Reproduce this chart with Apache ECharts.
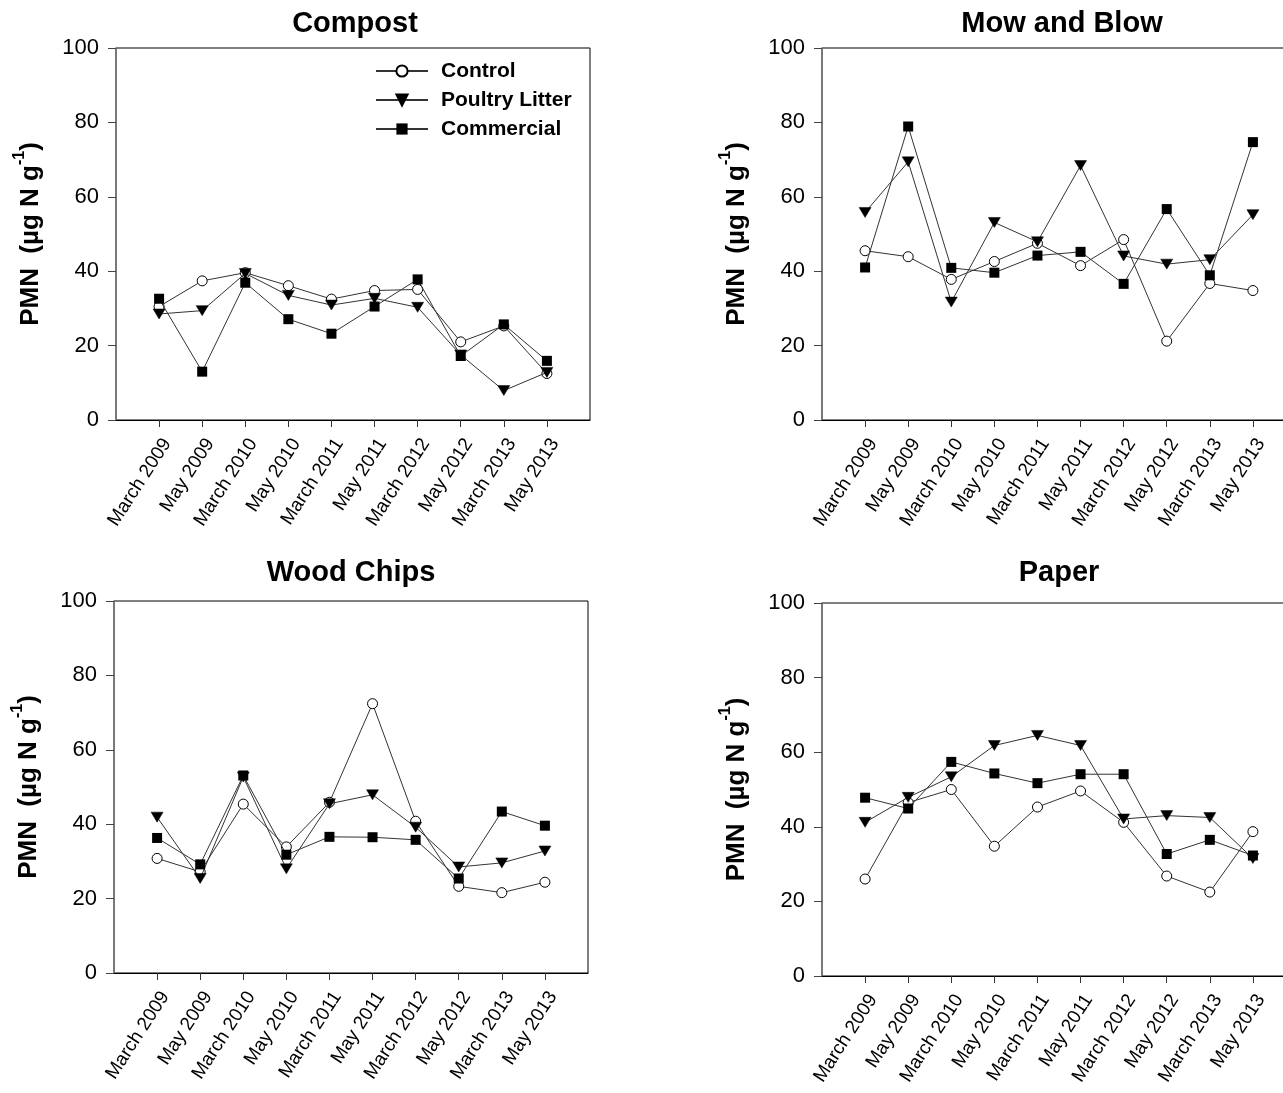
<!DOCTYPE html>
<html>
<head>
<meta charset="utf-8">
<title>PMN by amendment</title>
<script src="https://cdn.jsdelivr.net/npm/echarts@6/dist/echarts.min.js"></script>
<style>
  html, body { margin: 0; padding: 0; background: #fff; }
  #chart { width: 1283px; height: 1093px; }
</style>
</head>
<body>
<div id="chart"></div>
<script>
// Sampling dates (x categories)
const dates = ['March 2009', 'May 2009', 'March 2010', 'May 2010', 'March 2011',
               'May 2011', 'March 2012', 'May 2012', 'March 2013', 'May 2013'];
// Panel titles and treatments
const panelTitles = ['Compost', 'Mow and Blow', 'Wood Chips', 'Paper'];
const treatments = ['Control', 'Poultry Litter', 'Commercial'];
// Y tick labels
const yTicks = [0, 20, 40, 60, 80, 100];

// PMN (µg N g-1) per panel and treatment
const compostControl    = [30.5, 37.4, 39.6, 36.1, 32.5, 34.8, 35.1, 21.0, 25.3, 12.5];
const compostPoultry    = [28.5, 29.4, 39.4, 33.5, 30.9, 32.7, 30.3, 17.5, 7.9, 12.8];
const compostCommercial = [32.6, 13.0, 36.9, 27.1, 23.2, 30.5, 37.8, 17.2, 25.7, 15.9];

const mowControl    = [45.5, 43.9, 37.8, 42.6, 47.5, 41.5, 48.5, 21.2, 36.7, 34.8];
const mowPoultry    = [55.8, 69.4, 31.7, 53.1, 47.9, 68.4, 44.1, 41.9, 43.1, 55.2];
const mowCommercial = [41.0, 78.9, 40.9, 39.6, 44.2, 45.2, 36.6, 56.7, 38.9, 74.7];

const woodControl    = [30.8, 27.2, 45.4, 33.9, 45.9, 72.4, 40.8, 23.3, 21.6, 24.4];
const woodPoultry    = [41.9, 25.4, 52.7, 28.0, 45.5, 47.9, 39.2, 28.5, 29.6, 32.8];
const woodCommercial = [36.3, 29.2, 53.1, 31.8, 36.6, 36.5, 35.8, 25.4, 43.4, 39.6];

const paperControl    = [26.0, 46.5, 50.0, 34.8, 45.3, 49.6, 41.2, 26.8, 22.5, 38.7];
const paperPoultry    = [41.2, 47.9, 53.4, 61.8, 64.5, 61.8, 42.1, 43.0, 42.5, 31.5];
const paperCommercial = [47.8, 44.9, 57.4, 54.3, 51.7, 54.1, 54.1, 32.7, 36.5, 32.3];

const panelSeries = [
  [compostControl, compostPoultry, compostCommercial],
  [mowControl, mowPoultry, mowCommercial],
  [woodControl, woodPoultry, woodCommercial],
  [paperControl, paperPoultry, paperCommercial]
];

// Plot rectangles (px) for the four panels; the right column runs past the page edge
const gridBoxes = [
  { left: 116, top: 48,  width: 474, height: 372 },
  { left: 822, top: 48,  width: 474, height: 372 },
  { left: 114, top: 601, width: 474, height: 372 },
  { left: 822, top: 603, width: 474, height: 373 }
];
const titlePos = [
  { left: 355, top: 9 },
  { left: 1062, top: 9 },
  { left: 351, top: 558 },
  { left: 1059, top: 558 }
];

const FONT = '"Liberation Sans", Arial, Helvetica, sans-serif';
const LINE = '#333';

// One empty slot before and after the dates so the points sit one step in from each edge
const axisCats = [''].concat(dates, ['']);

const markerStyles = [
  { symbol: 'circle', symbolSize: 10, itemStyle: { color: '#fff', borderColor: '#000', borderWidth: 1 } },
  { symbol: 'path://M0,0 L12,0 L6,10 Z', symbolSize: [12, 10], itemStyle: { color: '#000', borderColor: '#000', borderWidth: 0.5 } },
  { symbol: 'rect', symbolSize: 10, itemStyle: { color: '#000' } }
];

const grid = [], xAxis = [], yAxis = [], series = [], title = [];

gridBoxes.forEach((box, p) => {
  grid.push(Object.assign({
    show: true, borderColor: '#000', borderWidth: 1, backgroundColor: 'transparent',
    containLabel: false, outerBoundsMode: 'none'
  }, box));

  title.push({
    text: panelTitles[p],
    left: titlePos[p].left,
    top: titlePos[p].top,
    padding: 0,
    textAlign: 'center',
    textStyle: { fontFamily: FONT, fontSize: 29, fontWeight: 'bold', color: '#000' }
  });

  xAxis.push({
    type: 'category',
    gridIndex: p,
    data: axisCats,
    boundaryGap: false,
    axisLine: { lineStyle: { color: '#000', width: 1 } },
    axisTick: { length: 7, lineStyle: { color: '#333' }, interval: (i, v) => v !== '' },
    axisLabel: {
      interval: 0, rotate: 57, margin: 15, verticalAlign: 'top',
      fontFamily: FONT, fontSize: 19, color: '#000'
    },
    splitLine: { show: false }
  });

  yAxis.push({
    type: 'value',
    gridIndex: p,
    min: yTicks[0],
    max: yTicks[yTicks.length - 1],
    interval: yTicks[1] - yTicks[0],
    axisLine: { show: true, lineStyle: { color: '#777', width: 1.5 } },
    axisTick: { show: true, length: 8, lineStyle: { color: '#444' } },
    axisLabel: { margin: 17, fontFamily: FONT, fontSize: 22, color: '#000' },
    splitLine: { show: false },
    name: '{a|PMN  (µg N g}{s|-1}{a|)}',
    nameLocation: 'middle',
    nameGap: 72,
    nameTextStyle: {
      rich: {
        a: { fontFamily: FONT, fontSize: 26, fontWeight: 'bold', color: '#000', lineHeight: 32, verticalAlign: 'bottom' },
        s: { fontFamily: FONT, fontSize: 16, fontWeight: 'bold', color: '#000', lineHeight: 16, verticalAlign: 'top' }
      }
    }
  });

  panelSeries[p].forEach((vals, t) => {
    series.push(Object.assign({
      name: treatments[t],
      type: 'line',
      xAxisIndex: p,
      yAxisIndex: p,
      data: vals.map((v, i) => [i + 1, v]),
      lineStyle: { color: LINE, width: 1 },
      z: 2 + t,
      animation: false
    }, markerStyles[t]));
  });
});

const option = {
  backgroundColor: '#fff',
  animation: false,
  title: title,
  legend: {
    data: treatments,
    orient: 'vertical',
    left: 375,
    top: 60,
    padding: 0,
    itemWidth: 52,
    itemHeight: 14,
    itemGap: 7,
    selectedMode: false,
    textStyle: { fontFamily: FONT, fontSize: 21, fontWeight: 'bold', color: '#000', lineHeight: 22, padding: [0, 0, 0, 8] }
  },
  grid: grid,
  xAxis: xAxis,
  yAxis: yAxis,
  series: series
};

const chart = echarts.init(document.getElementById('chart'), null, { renderer: 'canvas' });
chart.setOption(option);
</script>
</body>
</html>
